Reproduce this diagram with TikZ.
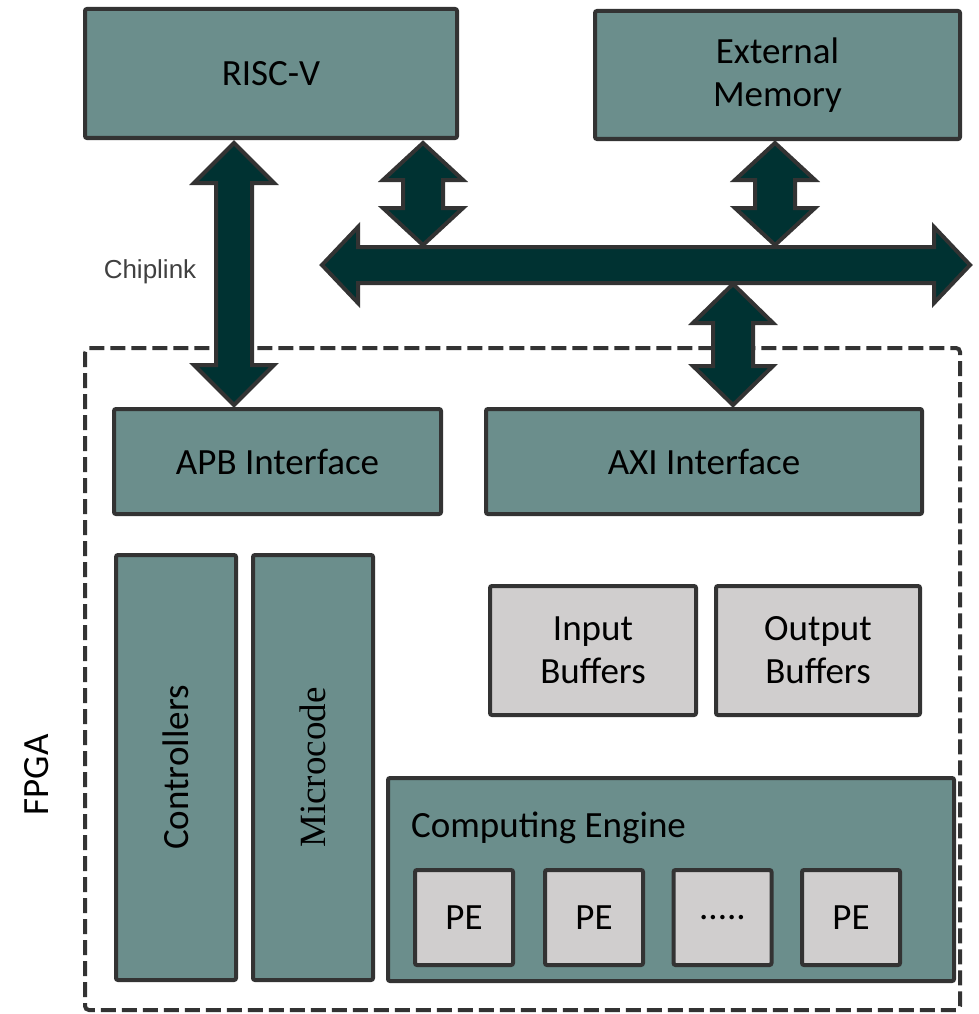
\documentclass[tikz,border=0pt]{standalone}
\usepackage{fontspec}
\setmainfont{Carlito}
\newfontfamily\arialf{Liberation Sans}
\newfontfamily\timesf{Liberation Serif}
\usetikzlibrary{calc}
\definecolor{tealfill}{HTML}{6B8E8C}
\definecolor{darkfill}{HTML}{003232}
\definecolor{edgecol}{HTML}{333333}
\definecolor{lightg}{HTML}{D0CECE}
\definecolor{labelgray}{HTML}{404040}
\newcommand\vdarrow[5]{% top, bottom, half head, half shaft, head length
  \draw[barrow] let \p1=(#1), \p2=(#2) in
    (\x1,\y1) -- (\x1+#3pt,\y1-#5pt) -- (\x1+#4pt,\y1-#5pt) -- (\x1+#4pt,\y2+#5pt)
    -- (\x1+#3pt,\y2+#5pt) -- (\x1,\y2) -- (\x1-#3pt,\y2+#5pt) -- (\x1-#4pt,\y2+#5pt)
    -- (\x1-#4pt,\y1-#5pt) -- (\x1-#3pt,\y1-#5pt) -- cycle;}
\newcommand\hdarrow[5]{% left, right, half head, half shaft, head length
  \draw[barrow] let \p1=(#1), \p2=(#2) in
    (\x1,\y1) -- (\x1+#5pt,\y1+#3pt) -- (\x1+#5pt,\y1+#4pt) -- (\x2-#5pt,\y1+#4pt)
    -- (\x2-#5pt,\y1+#3pt) -- (\x2,\y1) -- (\x2-#5pt,\y1-#3pt) -- (\x2-#5pt,\y1-#4pt)
    -- (\x1+#5pt,\y1-#4pt) -- (\x1+#5pt,\y1-#3pt) -- cycle;}
\begin{document}
\begin{tikzpicture}[x=1pt,y=-1pt,
  box/.style={draw=edgecol, line width=4pt, fill=tealfill, rounded corners=2pt,
    inner sep=0pt, font=\fontsize{37}{44}\selectfont, align=center},
  gbox/.style={box, fill=lightg},
  barrow/.style={draw=edgecol, line width=4pt, fill=darkfill, line join=miter}]
\useasboundingbox (0,0) rectangle (979,1014);

% FPGA region
\draw[draw=edgecol, line width=4pt, dash pattern=on 15pt off 6pt, rounded corners=4pt]
  (85,348) rectangle (960,1010);
\node[rotate=90, font=\fontsize{37}{44}\selectfont] (fpga) at (37,775) {FPGA};

% top blocks
\node[box, minimum width=372, minimum height=129] (risc) at (271,73.5) {\raisebox{-3pt}{RISC-V}};
\node[box, minimum width=365, minimum height=128] (mem) at (777.5,75) {External\\[-1pt]Memory};

% interfaces
\node[box, minimum width=327, minimum height=105] (apb) at (277.5,461.5) {APB Interface};
\node[box, minimum width=436, minimum height=105] (axi) at (704,461.5) {AXI Interface};

% controllers / microcode
\node[box, rotate=90, minimum width=425, minimum height=120] (ctrl) at (176,767.5) {Controllers};
\node[box, rotate=90, minimum width=425, minimum height=120, font=\timesf\fontsize{37}{44}\selectfont] (mcode) at (313,767.5) {Microcode};

% buffers
\node[gbox, minimum width=206, minimum height=129] (inbuf) at (593,650.5) {Input\\[-1pt]Buffers};
\node[gbox, minimum width=204, minimum height=129] (outbuf) at (818,650.5) {Output\\[-1pt]Buffers};

% computing engine
\node[box, minimum width=566, minimum height=203] (ce) at (671,879.5) {};
\node[anchor=west, inner sep=0pt, font=\fontsize{37}{44}\selectfont] (celabel) at (411,828) {Computing Engine};
\node[gbox, minimum width=98, minimum height=95] (pe1) at (464,917.5) {PE};
\node[gbox, minimum width=98, minimum height=95] (pe2) at (594,917.5) {PE};
\node[gbox, minimum width=98, minimum height=95] (pe3) at (722.5,917.5) {.....};
\node[gbox, minimum width=98, minimum height=95] (pe4) at (851,917.5) {PE};

% arrows
\coordinate (busl) at (322,265);
\coordinate (busr) at (970,265);
\hdarrow{busl}{busr}{38}{18}{36}

\coordinate (chipt) at (234,143);
\coordinate (chipb) at (234,405);
\vdarrow{chipt}{chipb}{40}{18}{40}

\coordinate (rbt) at (423,143);
\coordinate (rbb) at (423,245);
\vdarrow{rbt}{rbb}{40}{20}{37}

\coordinate (mbt) at (775,143);
\coordinate (mbb) at (775,245);
\vdarrow{mbt}{mbb}{40}{20}{37}

\coordinate (abt) at (733,284);
\coordinate (abb) at (733,405);
\vdarrow{abt}{abb}{40}{20}{39}

\node[font=\arialf\fontsize{26}{30}\selectfont, text=labelgray] (chiplink) at (150,272) {Chiplink};
\end{tikzpicture}
\end{document}
